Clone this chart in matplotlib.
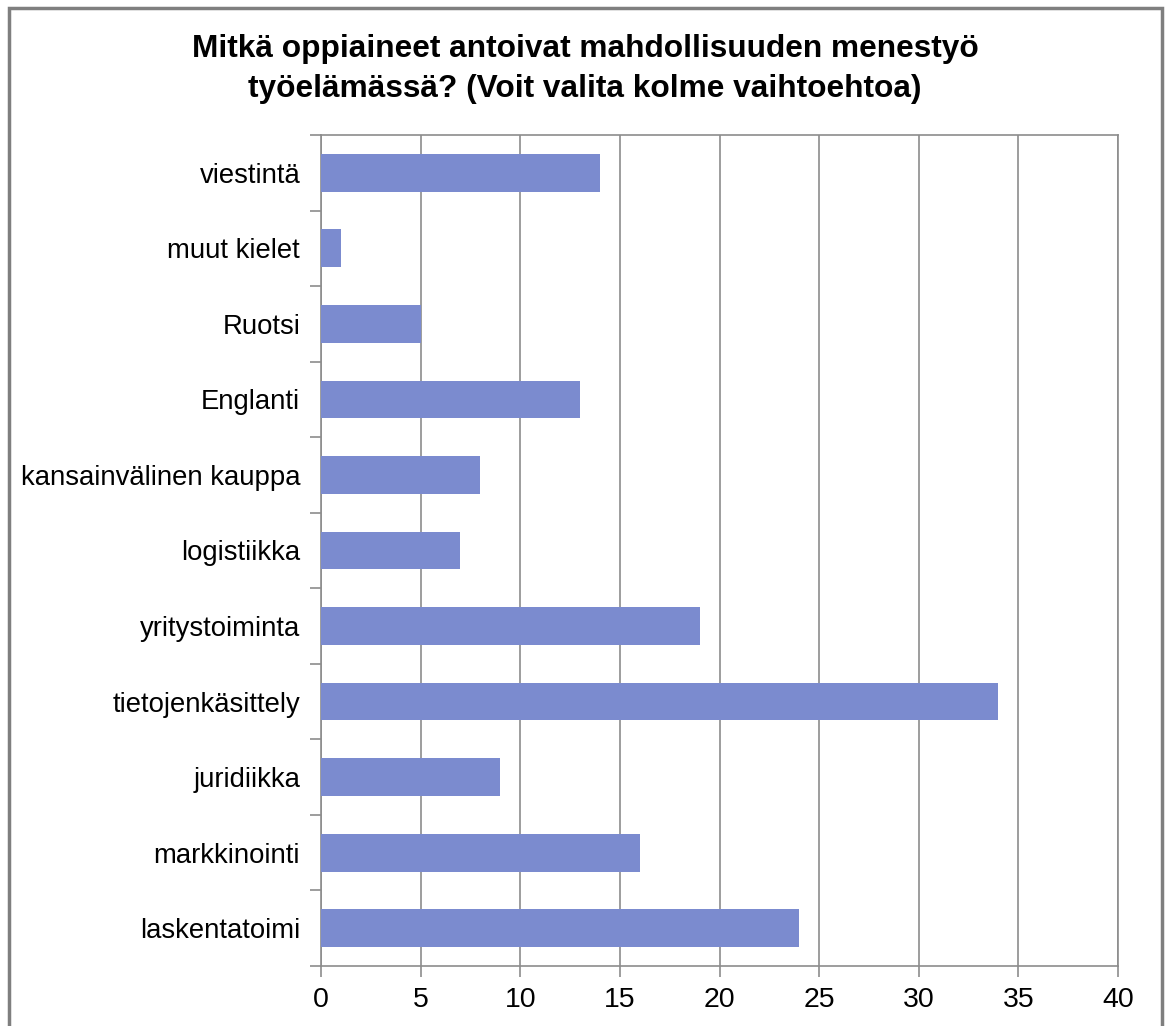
import matplotlib.pyplot as plt
from matplotlib.patches import Rectangle

# categories from top to bottom, as in the picture
categories = ["viestintä", "muut kielet", "Ruotsi", "Englanti", "kansainvälinen kauppa",
              "logistiikka", "yritystoiminta", "tietojenkäsittely", "juridiikka",
              "markkinointi", "laskentatoimi"]
values = [14, 1, 5, 13, 8, 7, 19, 34, 9, 16, 24]
xticks = [0, 5, 10, 15, 20, 25, 30, 35, 40]

title = "Mitkä oppiaineet antoivat mahdollisuuden menestyö\ntyöelämässä? (Voit valita kolme vaihtoehtoa)"

plt.rcParams['font.family'] = ['Liberation Sans', 'DejaVu Sans']

W, H = 1168, 1026
fig = plt.figure(figsize=(W / 100, H / 100), dpi=100)
ax = fig.add_axes([321 / W, 1 - 966 / H, (1118 - 321) / W, (966 - 135) / H])

grey = "#8c8c8c"
n = len(categories)
ypos = list(range(n))[::-1]
ax.barh(ypos, values, height=0.5, color="#7b8bcf", zorder=3)

ax.set_xlim(0, 40)
ax.set_ylim(-0.5, n - 0.5)
ax.set_xticks(xticks)
ax.set_xticklabels([str(t) for t in xticks], fontsize=20.5)
ax.set_yticks(ypos)
ax.set_yticklabels(categories, fontsize=19.8)
ax.tick_params(axis="y", length=0, pad=15)
ax.set_yticks([i - 0.5 for i in range(n + 1)], minor=True)
ax.tick_params(axis="y", which="minor", length=8, width=1.2, color=grey)
ax.tick_params(axis="x", length=8, width=1.2, color=grey, pad=7)
ax.grid(axis="x", color=grey, linewidth=1.2, zorder=0)
for s in ax.spines.values():
    s.set_color(grey)
    s.set_linewidth(1.2)

fig.text(585 / W, 1 - 69 / H, title, ha="center", va="center", fontsize=22.8,
         fontweight="bold", linespacing=1.4)

# outer frame of the chart
fig.patches.append(Rectangle((9 / W, -0.01), (1162 - 9) / W, 1 - 8 / H + 0.01,
                             transform=fig.transFigure, fill=False,
                             edgecolor="#7f7f7f", linewidth=2.5))

fig.savefig("out.png", dpi=100)
